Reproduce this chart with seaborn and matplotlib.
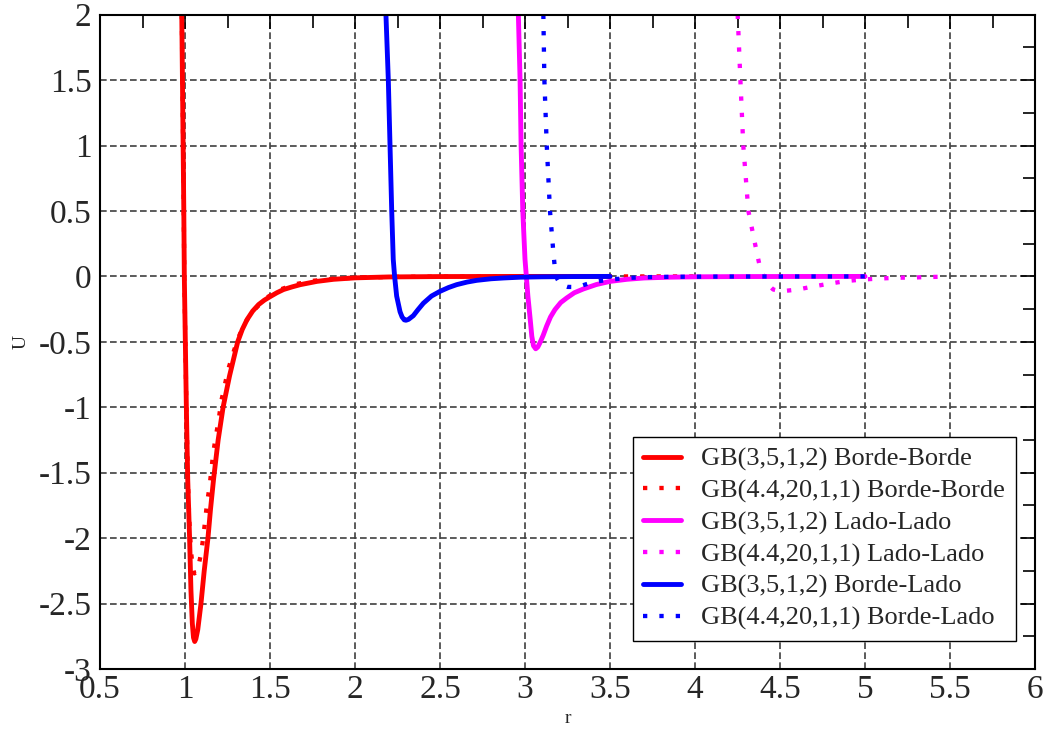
import numpy as np
import pandas as pd
import matplotlib
matplotlib.use("Agg")
import matplotlib.pyplot as plt
import seaborn as sns

# --- Gay-Berne potential curves U(r) ---------------------------------------
# GB(3,5,1,2) end-to-end (Borde-Borde)
r_bb_a = [0.981, 0.985, 0.989, 0.993, 0.996, 1.002, 1.008, 1.016, 1.027, 1.035,
          1.043, 1.050, 1.057, 1.064, 1.075, 1.094, 1.113, 1.135, 1.150, 1.168,
          1.195, 1.224, 1.262, 1.310, 1.337, 1.365, 1.398, 1.433, 1.466, 1.500,
          1.540, 1.580, 1.630, 1.678, 1.776, 1.874, 2.000, 2.200, 2.500, 3.000,
          3.500]
u_bb_a = [2.00, 1.50, 1.00, 0.50, 0.00, -0.50, -1.00, -1.55, -2.00, -2.40,
          -2.65, -2.76, -2.79, -2.77, -2.70, -2.50, -2.25, -2.00, -1.78, -1.55,
          -1.25, -1.00, -0.76, -0.50, -0.405, -0.33, -0.265, -0.215, -0.182, -0.155,
          -0.125, -0.100, -0.080, -0.063, -0.038, -0.022, -0.011, -0.004, -0.001, 0.000,
          0.000]

# GB(4.4,20,1,1) end-to-end (Borde-Borde)
r_bb_b = [0.981, 0.989, 0.996, 1.008, 1.018, 1.028, 1.037, 1.045, 1.055, 1.065,
          1.078, 1.094, 1.108, 1.118, 1.129, 1.145, 1.165, 1.180, 1.198, 1.212,
          1.231, 1.252, 1.280, 1.310, 1.350, 1.404, 1.476, 1.560, 1.655, 1.756,
          1.870, 2.000, 2.250, 2.600, 3.000, 4.000]
u_bb_b = [2.00, 1.00, 0.00, -1.00, -1.60, -1.95, -2.12, -2.22, -2.27, -2.26,
          -2.22, -2.12, -1.99, -1.87, -1.74, -1.60, -1.36, -1.23, -1.10, -0.96,
          -0.85, -0.72, -0.60, -0.48, -0.36, -0.26, -0.165, -0.100, -0.058, -0.033,
          -0.018, -0.010, -0.003, -0.001, 0.000, 0.000]

# GB(3,5,1,2) side-by-side (Lado-Lado)
r_ll_a = [2.961, 2.971, 2.977, 2.987, 3.000, 3.008, 3.017, 3.025, 3.033, 3.040,
          3.050, 3.063, 3.075, 3.088, 3.107, 3.127, 3.150, 3.176, 3.210, 3.245,
          3.290, 3.343, 3.420, 3.500, 3.600, 3.700, 3.850, 4.000, 4.300, 5.000]
u_ll_a = [2.00, 1.50, 1.00, 0.50, 0.13, 0.00, -0.15, -0.254, -0.36, -0.457,
          -0.53, -0.553, -0.54, -0.507, -0.45, -0.38, -0.31, -0.254, -0.20, -0.165,
          -0.125, -0.096, -0.062, -0.038, -0.022, -0.012, -0.006, -0.003, -0.001, 0.000]

# GB(4.4,20,1,1) side-by-side (Lado-Lado)
r_ll_b = [4.251, 4.267, 4.284, 4.314, 4.353, 4.382, 4.420, 4.460, 4.506, 4.604,
          4.700, 4.800, 4.897, 4.995, 5.090, 5.190, 5.290, 5.390, 5.490]
u_ll_b = [2.00, 1.50, 1.00, 0.50, 0.25, 0.07, -0.05, -0.10, -0.114, -0.100,
          -0.076, -0.053, -0.034, -0.023, -0.016, -0.010, -0.008, -0.004, -0.002]

# GB(3,5,1,2) end-to-side (Borde-Lado)
r_bl_a = [2.182, 2.196, 2.206, 2.216, 2.225, 2.233, 2.245, 2.255, 2.265, 2.277,
          2.290, 2.300, 2.315, 2.343, 2.370, 2.402, 2.450, 2.500, 2.550, 2.598,
          2.660, 2.716, 2.800, 2.873, 2.970, 3.100, 3.300, 3.500]
u_bl_a = [2.00, 1.50, 1.00, 0.50, 0.13, 0.00, -0.15, -0.21, -0.27, -0.31,
          -0.332, -0.335, -0.328, -0.300, -0.255, -0.205, -0.150, -0.114, -0.085, -0.063,
          -0.043, -0.030, -0.018, -0.012, -0.006, -0.003, -0.001, 0.000]

# GB(4.4,20,1,1) end-to-side (Borde-Lado)
r_bl_b = [3.108, 3.114, 3.128, 3.147, 3.167, 3.176, 3.190, 3.210, 3.250, 3.298,
          3.340, 3.392, 3.450, 3.500, 3.590, 3.690, 3.850, 4.200, 5.000]
u_bl_b = [2.00, 1.50, 1.00, 0.50, 0.18, 0.06, -0.02, -0.063, -0.080, -0.081,
          -0.068, -0.046, -0.033, -0.025, -0.013, -0.006, -0.003, -0.001, 0.000]

labels = [
    "GB(3,5,1,2) Borde-Borde",
    "GB(4.4,20,1,1) Borde-Borde",
    "GB(3,5,1,2) Lado-Lado",
    "GB(4.4,20,1,1) Lado-Lado",
    "GB(3,5,1,2) Borde-Lado",
    "GB(4.4,20,1,1) Borde-Lado",
]
x_ticks = [0.5, 1, 1.5, 2, 2.5, 3, 3.5, 4, 4.5, 5, 5.5, 6]
y_ticks = [-3, -2.5, -2, -1.5, -1, -0.5, 0, 0.5, 1, 1.5, 2]

# --- style -------------------------------------------------------------------
sns.set_style("white")
plt.rcParams["font.family"] = ["Liberation Serif", "DejaVu Serif"]
plt.rcParams["axes.unicode_minus"] = False

solid = "-"
dotted = (0, (1, 2.8))
curves = [
    (r_bb_a, u_bb_a, "#ff0000", solid),
    (r_bb_b, u_bb_b, "#ff0000", dotted),
    (r_ll_a, u_ll_a, "#ff00ff", solid),
    (r_ll_b, u_ll_b, "#ff00ff", dotted),
    (r_bl_a, u_bl_a, "#0000ff", solid),
    (r_bl_b, u_bl_b, "#0000ff", dotted),
]

fig = plt.figure(figsize=(10.51, 7.31), dpi=100)
ax = fig.add_axes([100 / 1051, 1 - 669 / 731, 935 / 1051, 654.3 / 731])

for (r, u, col, ls), lab in zip(curves, labels):
    df = pd.DataFrame({"r": r, "U": u})
    sns.lineplot(data=df, x="r", y="U", ax=ax, color=col, linestyle=ls,
                 linewidth=3.5 if ls == solid else 3.1, label=lab,
                 estimator=None, sort=False, errorbar=None)

ax.set_xlim(0.5, 6)
ax.set_ylim(-3, 2)
ax.set_xticks(x_ticks)
ax.set_xticklabels([f"{v:g}" for v in x_ticks])
ax.set_yticks(y_ticks)
ax.set_yticklabels([f"{v:g}" for v in y_ticks])
ax.set_xticks(np.arange(0.75, 6, 0.5), minor=True)
ax.set_yticks(np.arange(-2.75, 2, 0.5), minor=True)

ax.tick_params(which="both", direction="in", top=True, right=True,
               color="black", width=1.2)
ax.tick_params(which="major", length=10, labelsize=24)
ax.tick_params(axis="x", which="major", pad=4)
ax.tick_params(axis="y", which="major", pad=6)
ax.tick_params(which="minor", length=9)

for sp in ax.spines.values():
    sp.set_color("black")
    sp.set_linewidth(1.5)

ax.grid(True, which="major", color="#404040", linestyle=(0, (4, 2)), linewidth=1.2)

ax.set_xlabel("r", fontsize=14)
ax.set_ylabel("U", fontsize=14)
ax.xaxis.set_label_coords(0.5, -0.063)
ax.yaxis.set_label_coords(-0.0757, 0.5)

leg = ax.legend(loc="upper left", bbox_to_anchor=(0.5697, 0.355),
                borderaxespad=0, frameon=True, fancybox=False,
                edgecolor="black", fontsize=19, handlelength=1.45,
                handletextpad=0.75, labelspacing=0.3, borderpad=0.4)
leg.get_frame().set_linewidth(1.0)
leg.get_frame().set_alpha(1.0)

fig.savefig("out.png", dpi=100)
